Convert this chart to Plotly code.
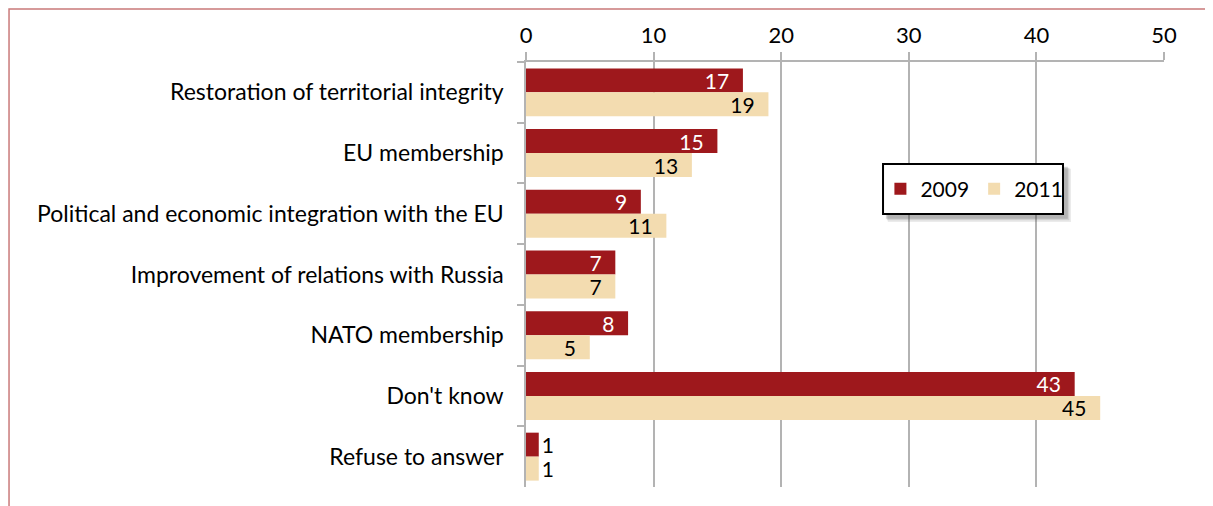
import plotly.graph_objects as go

categories = [
    "Restoration of territorial integrity",
    "EU membership",
    "Political and economic integration with the EU",
    "Improvement of relations with Russia",
    "NATO membership",
    "Don't know",
    "Refuse to answer",
]
values_2009 = [17, 15, 9, 7, 8, 43, 1]
values_2011 = [19, 13, 11, 7, 5, 45, 1]
x_ticks = [0, 10, 20, 30, 40, 50]

FONT = "Lato"
FS = 22
LFS = 21
C2009 = "#9e181c"
C2011 = "#f3dcb0"
PAD = "\u00a0\u00a0"

def positions(vals):
    return ["outside" if v < 3 else "inside" for v in vals]

def labels(vals):
    return [str(v) if v < 3 else str(v) + PAD for v in vals]

fig = go.Figure()
fig.add_trace(go.Bar(
    y=categories, x=values_2009, orientation="h", name="2009",
    marker=dict(color=C2009, line=dict(width=0)),
    text=labels(values_2009), textposition=positions(values_2009),
    insidetextanchor="end", textangle=0, constraintext="none",
    insidetextfont=dict(color="white", size=LFS, family=FONT),
    outsidetextfont=dict(color="black", size=LFS, family=FONT),
    cliponaxis=False,
))
fig.add_trace(go.Bar(
    y=categories, x=values_2011, orientation="h", name="2011",
    marker=dict(color=C2011, line=dict(width=0)),
    text=labels(values_2011), textposition=positions(values_2011),
    insidetextanchor="end", textangle=0, constraintext="none",
    insidetextfont=dict(color="black", size=LFS, family=FONT),
    outsidetextfont=dict(color="black", size=LFS, family=FONT),
    cliponaxis=False,
))

# legend box geometry (paper coords)
bx0, bx1, by0, by1 = 0.5596, 0.8417, 0.6424, 0.76
shadow = []
for dx, op in [(0.0125, 0.10), (0.0100, 0.15), (0.0075, 0.2)]:
    dy = dx * 638 / 425
    shadow.append(dict(type="rect", xref="paper", yref="paper",
                       x0=bx0 + dx * 0.6, x1=bx1 + dx, y0=by0 - dy, y1=by1 - dy * 0.6,
                       fillcolor=f"rgba(60,60,60,{op})", line=dict(width=0), layer="above"))

fig.update_layout(
    width=1213, height=506,
    margin=dict(l=518, r=57, t=54, b=27),
    paper_bgcolor="white", plot_bgcolor="white",
    font=dict(family=FONT, size=FS, color="black"),
    barmode="group", bargap=0.21, bargroupgap=0,
    showlegend=True,
    legend=dict(
        orientation="h", x=0.5555, y=0.7012, xanchor="left", yanchor="middle",
        bgcolor="rgba(0,0,0,0)", borderwidth=0, itemwidth=30,
        font=dict(size=21, family=FONT), traceorder="normal",
    ),
    xaxis=dict(
        side="top", range=[0, 50], tickvals=x_ticks,
        showgrid=True, gridcolor="#b3b3b3", gridwidth=1.5,
        showline=True, linecolor="#b3b3b3", linewidth=1.5,
        ticks="outside", ticklen=8, tickcolor="#b3b3b3", tickwidth=1.5,
        zeroline=False, tickfont=dict(size=FS, family=FONT),
    ),
    yaxis=dict(
        autorange="reversed", showline=True, linecolor="#b3b3b3", linewidth=1.5,
        ticks="outside", tickson="boundaries", ticklen=7, tickcolor="#b3b3b3",
        tickwidth=1.5, showgrid=False, tickfont=dict(size=23, family=FONT),
        ticklabelstandoff=16,
    ),
    shapes=[
        dict(type="rect", xref="paper", yref="paper",
             x0=-0.8103, x1=1.2, y0=-0.2, y1=1.1247,
             line=dict(color="#c97a7a", width=1.5), layer="below"),
    ] + shadow + [
        dict(type="rect", xref="paper", yref="paper",
             x0=bx0, x1=bx1, y0=by0, y1=by1,
             fillcolor="white", line=dict(color="black", width=2), layer="above"),
    ],
)

fig.write_html("out.html")
